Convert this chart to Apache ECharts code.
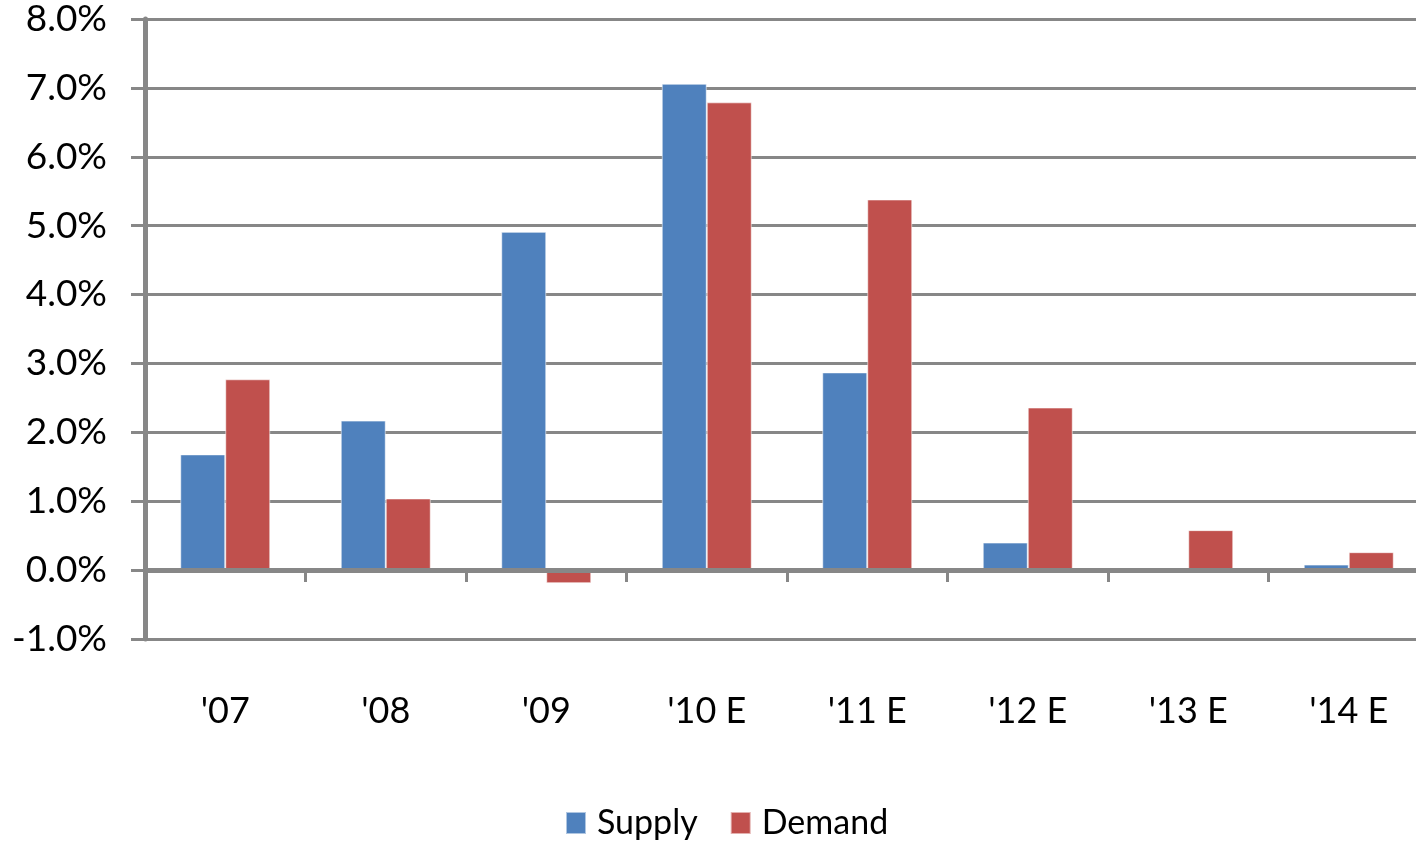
<!DOCTYPE html>
<html>
<head>
<meta charset="utf-8">
<script src="https://cdn.jsdelivr.net/npm/echarts@6/dist/echarts.min.js"></script>
<style>
  html, body { margin: 0; padding: 0; background: #fff; overflow: hidden; }
  #chart { width: 1416px; height: 843px; }
</style>
</head>
<body>
<div id="chart"></div>
<script>
// Year-over-year growth, percent
const categories = ["'07", "'08", "'09", "'10 E", "'11 E", "'12 E", "'13 E", "'14 E"];
const supply = [1.68, 2.17, 4.91, 7.06, 2.87, 0.40, 0.0, 0.08];
const demand = [2.77, 1.04, -0.19, 6.79, 5.38, 2.36, 0.58, 0.26];
const seriesNames = ['Supply', 'Demand'];

const AXIS_GRAY = '#878787';
const FONT = 'Lato, "Open Sans", sans-serif';

const chart = echarts.init(document.getElementById('chart'), null, { renderer: 'canvas' });
chart.setOption({
  animation: false,
  backgroundColor: '#ffffff',
  color: ['#4F81BD', '#C0504D'],
  // plot area runs slightly past the right edge of the canvas
  grid: { left: 145, top: 19, width: 1284, height: 620, containLabel: false, outerBoundsMode: 'none' },
  legend: {
    data: seriesNames,
    bottom: -2,
    left: 560,
    itemWidth: 20,
    itemHeight: 22,
    itemGap: 32,
    icon: 'rect',
    textStyle: { fontFamily: FONT, fontSize: 34, color: '#000', padding: [0, 0, 0, 6] }
  },
  xAxis: {
    type: 'category',
    data: categories,
    axisLine: { onZero: true, lineStyle: { color: AXIS_GRAY, width: 5 } },
    axisTick: { show: true, length: 12, lineStyle: { color: AXIS_GRAY, width: 3 } },
    axisLabel: { margin: 54, fontFamily: FONT, fontSize: 36, color: '#000' },
    splitLine: { show: false },
    z: 5
  },
  yAxis: {
    type: 'value',
    min: -1,
    max: 8,
    interval: 1,
    axisLine: { show: true, lineStyle: { color: AXIS_GRAY, width: 5 } },
    axisTick: { show: true, length: 14, lineStyle: { color: AXIS_GRAY, width: 3 } },
    axisLabel: {
      margin: 38,
      fontFamily: FONT,
      fontSize: 37,
      color: '#000',
      formatter: v => v.toFixed(1) + '%'
    },
    splitLine: { show: true, lineStyle: { color: AXIS_GRAY, width: 3 } }
  },
  series: [
    {
      name: seriesNames[0],
      type: 'bar',
      data: supply,
      barWidth: 45,
      barGap: '0%',
      itemStyle: { borderColor: 'rgba(255,255,255,0.55)', borderWidth: 1 }
    },
    {
      name: seriesNames[1],
      type: 'bar',
      data: demand,
      barWidth: 45,
      barGap: '0%',
      itemStyle: { borderColor: 'rgba(255,255,255,0.55)', borderWidth: 1 }
    }
  ]
});
</script>
</body>
</html>
